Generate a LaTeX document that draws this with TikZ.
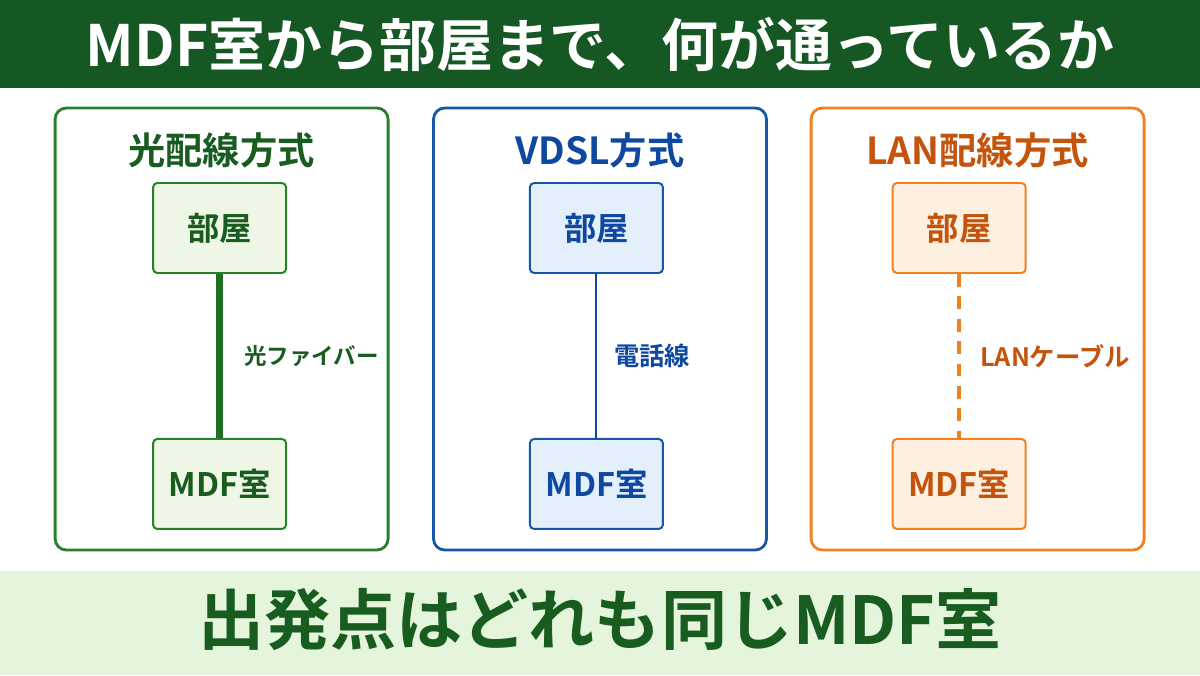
\documentclass[tikz,border=0pt]{standalone}
\usepackage{fontspec}
\newfontfamily\jpfont{Noto Sans CJK JP}[BoldFont={Noto Sans CJK JP Bold}]
\usetikzlibrary{positioning}

\definecolor{bannergreen}{RGB}{22,88,36}
\definecolor{bandgreen}{RGB}{229,245,220}
\definecolor{fibergreen}{RGB}{38,128,42}
\definecolor{fibertext}{RGB}{24,92,32}
\definecolor{fiberfill}{RGB}{238,247,230}
\definecolor{vdslblue}{RGB}{24,86,168}
\definecolor{vdsltext}{RGB}{14,72,160}
\definecolor{vdslfill}{RGB}{228,239,252}
\definecolor{lanorange}{RGB}{240,128,32}
\definecolor{lantext}{RGB}{196,84,12}
\definecolor{lanfill}{RGB}{253,240,224}

\begin{document}
\begin{tikzpicture}[
    font=\jpfont\bfseries,
    % panels and boxes
    panel/.style   = {draw, rounded corners=8pt, line width=2pt, fill=white,
                      minimum width=8.325cm, minimum height=11.05cm},
    ptitle/.style  = {font=\jpfont\bfseries\fontsize{26.5}{29}\selectfont, inner sep=0pt},
    place/.style   = {draw, rounded corners=3pt, line width=1.4pt,
                      minimum width=3.325cm, minimum height=2.25cm,
                      font=\jpfont\bfseries\fontsize{23}{26}\selectfont},
    lbl/.style     = {font=\jpfont\bfseries\fontsize{18}{20}\selectfont, inner sep=0pt},
    % connectors
    fiberline/.style = {line width=5.5pt, fibergreen!85!black},
    vdslline/.style  = {line width=1.4pt, vdsltext},
    lanline/.style   = {line width=3.2pt, lanorange, dash pattern=on 0.32cm off 0.24cm}
  ]
\useasboundingbox (0,0) rectangle (30,-16.875);

% ============================================================
% Title banner and bottom band
% ============================================================
\fill[bannergreen] (0,0) rectangle (30,-2.2);
\node[white, font=\jpfont\bfseries\fontsize{40.5}{42}\selectfont] (title) at (15,-1.1)
  {MDF室から部屋まで、何が通っているか};

\fill[bandgreen] (0,-14.275) rectangle (30,-16.875);
\node[fibertext, font=\jpfont\bfseries\fontsize{47}{49}\selectfont] (summary) at (15,-15.5)
  {出発点はどれも同じMDF室};

% ============================================================
% Three panels
% ============================================================
\node[panel, draw=fibergreen] (pnlfiber) at (5.54,-8.225) {};
\node[panel, draw=vdslblue]   (pnlvdsl)  at (15,-8.225)   {};
\node[panel, draw=lanorange]  (pnllan)   at (24.44,-8.225) {};

\node[ptitle, fibertext] (tfiber) at (5.54,-3.75)  {光配線方式};
\node[ptitle, vdsltext]  (tvdsl)  at (15,-3.75)    {VDSL方式};
\node[ptitle, lantext]   (tlan)   at (24.44,-3.75) {LAN配線方式};

% Rooms (top) and MDF rooms (bottom)
\node[place, draw=fibergreen, fill=fiberfill, text=fibertext] (roomfiber) at (5.49,-5.7) {部屋};
\node[place, draw=fibergreen, fill=fiberfill, text=fibertext, below=4.1cm of roomfiber] (mdffiber) {MDF室};

\node[place, draw=vdslblue, fill=vdslfill, text=vdsltext] (roomvdsl) at (14.91,-5.7) {部屋};
\node[place, draw=vdslblue, fill=vdslfill, text=vdsltext, below=4.1cm of roomvdsl] (mdfvdsl) {MDF室};

\node[place, draw=lanorange, fill=lanfill, text=lantext] (roomlan) at (23.98,-5.7) {部屋};
\node[place, draw=lanorange, fill=lanfill, text=lantext, below=4.1cm of roomlan] (mdflan) {MDF室};

% Connectors with their labels
\draw[fiberline] (roomfiber) -- node[lbl, fibertext, right=0.52cm, font=\jpfont\bfseries\fontsize{16}{18}\selectfont] {光ファイバー} (mdffiber);
\draw[vdslline]  (roomvdsl)  -- node[lbl, vdsltext, right=0.42cm]  {電話線} (mdfvdsl);
\draw[lanline]   (roomlan)   -- node[lbl, lantext, right=0.47cm]   {LANケーブル} (mdflan);

\end{tikzpicture}
\end{document}
